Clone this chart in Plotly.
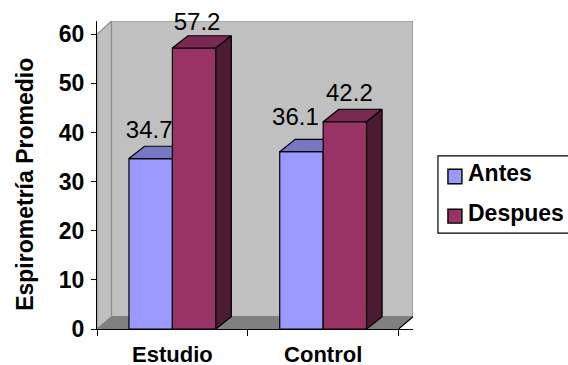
import plotly.graph_objects as go

categories = ["Estudio", "Control"]
antes = [34.7, 36.1]
despues = [57.2, 42.2]
y_ticks = [0, 10, 20, 30, 40, 50, 60]

BLUE, BLUE_TOP = "#9999FF", "#7777C4"
WINE, WINE_TOP, WINE_SIDE = "#993366", "#7A2952", "#4D1A33"
WALL, FLOOR, EDGE = "#C0C0C0", "#808080", "#8C8C8C"
FONT = "Liberation Sans"

W, H = 568, 365
L, R, T, B = 96.5, 413, 20.5, 329
X_MAX = 2.096
Y_MAX = 62.7
BAR_W = 0.288
DX, DY = 0.103, 2.5          # oblique depth of the bars
WALL_DX, WALL_DY = 0.096, 2.5  # oblique depth of the chart box

centers = [i + 0.5 for i in range(len(categories))]
fig = go.Figure()


def px_x(p):
    return (p - L) / (R - L)


def px_y(p):
    return (B - p) / (B - T)


def polygon(xs, ys, fill):
    fig.add_trace(go.Scatter(
        x=xs + xs[:1], y=ys + ys[:1], mode="lines", fill="toself", fillcolor=fill,
        line=dict(color="black", width=1.2), hoverinfo="skip", showlegend=False,
    ))


fig.add_trace(go.Bar(name="Antes", x=centers, y=antes, width=BAR_W, offset=-BAR_W,
                     marker=dict(color=BLUE, line=dict(color="black", width=1.2))))
fig.add_trace(go.Bar(name="Despues", x=centers, y=despues, width=BAR_W, offset=0,
                     marker=dict(color=WINE, line=dict(color="black", width=1.2))))

# Top faces of the front series stop where the taller neighbour begins
for c, v in zip(centers, antes):
    polygon([c - BAR_W, c, c, c - BAR_W + DX], [v, v, v + DY, v + DY], BLUE_TOP)

for c, v in zip(centers, despues):
    polygon([c, c + BAR_W, c + BAR_W + DX, c + DX], [v, v, v + DY, v + DY], WINE_TOP)
    polygon([c + BAR_W, c + BAR_W + DX, c + BAR_W + DX, c + BAR_W],
            [0, DY, v + DY, v], WINE_SIDE)

# Value labels, nudged off the bars the way the chart places them
label_x = [c - BAR_W / 2 + d for c, d in zip(centers, [-0.01, -0.04])] + \
          [c + BAR_W / 2 + d for c, d in zip(centers, [0.02, 0.03])]
label_lift = [5.5, 6.7, 4.9, 5.5]
label_values = antes + despues
fig.add_trace(go.Scatter(
    x=label_x, y=[v + d for v, d in zip(label_values, label_lift)],
    mode="text", text=[f"{v:.1f}" for v in label_values], textposition="middle center",
    textfont=dict(family=FONT, size=24, color="black"),
    cliponaxis=False, hoverinfo="skip", showlegend=False,
))

shapes = [
    # back wall, side wall and floor of the chart box
    dict(type="rect", xref="x", yref="y", x0=WALL_DX, x1=X_MAX, y0=WALL_DY, y1=Y_MAX,
         fillcolor=WALL, line=dict(color=EDGE, width=1.2), layer="below"),
    dict(type="path", xref="x", yref="y",
         path=f"M0,0 L{WALL_DX},{WALL_DY} L{WALL_DX},{Y_MAX} L0,60 Z",
         fillcolor=WALL, line=dict(color=EDGE, width=1.2), layer="below"),
    dict(type="path", xref="x", yref="y",
         path=f"M0,0 L2,0 L{X_MAX},{WALL_DY} L{WALL_DX},{WALL_DY} Z",
         fillcolor=FLOOR, line=dict(color=FLOOR, width=1), layer="below"),
    dict(type="line", xref="x", yref="y", x0=2, x1=X_MAX, y0=0, y1=WALL_DY,
         line=dict(color="black", width=1.2), layer="below"),
    # key box and swatches
    dict(type="rect", xref="paper", yref="paper",
         x0=px_x(438), x1=px_x(569), y0=px_y(233), y1=px_y(155.5),
         fillcolor="white", line=dict(color="black", width=1.2)),
    dict(type="rect", xref="paper", yref="paper",
         x0=px_x(448), x1=px_x(462), y0=px_y(183.5), y1=px_y(169),
         fillcolor=BLUE, line=dict(color="black", width=1.4)),
    dict(type="rect", xref="paper", yref="paper",
         x0=px_x(448), x1=px_x(462), y0=px_y(223), y1=px_y(209),
         fillcolor=WINE, line=dict(color="black", width=1.4)),
]

annotations = [
    dict(xref="paper", yref="paper", x=px_x(467), y=px_y(y), text=t, showarrow=False,
         xanchor="left", yanchor="middle", xshift=-1,
         font=dict(family=FONT, size=23, color="black"), align="left")
    for t, y in zip(["<b>Antes</b>", "<b>Despues</b>"], [173, 213])
]
annotations.append(dict(
    xref="paper", yref="paper", x=px_x(25), y=px_y(184), text="<b>Espirometría Promedio</b>",
    textangle=-90, showarrow=False, xanchor="center", yanchor="middle",
    font=dict(family=FONT, size=23, color="black"),
))

fig.update_layout(
    width=W, height=H, margin=dict(l=L, r=W - R, t=T, b=H - B, pad=0, autoexpand=False),
    paper_bgcolor="white", plot_bgcolor="rgba(0,0,0,0)",
    barmode="overlay", showlegend=False, shapes=shapes, annotations=annotations,
    xaxis=dict(
        range=[0, X_MAX], tickmode="array", tickvals=centers, automargin=False,
        ticktext=[f"<b>{c}</b>" for c in categories], ticks="", ticklen=0,
        ticklabelstandoff=5, showgrid=False, zeroline=False, showline=True,
        linecolor="black", linewidth=1.2, anchor="y",
        tickfont=dict(family=FONT, size=22, color="black"),
        minor=dict(tickmode="array", tickvals=[0, 1, 2], ticks="outside", ticklen=6,
                   tickcolor="black", tickwidth=1.2, showgrid=False),
    ),
    yaxis=dict(
        range=[0, Y_MAX], tickmode="array", tickvals=y_ticks, automargin=False,
        ticktext=[f"<b>{t}</b>" for t in y_ticks], ticks="outside", ticklen=5,
        tickcolor="black", tickwidth=1.2, showgrid=False, zeroline=False, showline=True,
        linecolor="black", linewidth=1.2, ticklabelstandoff=2,
        tickfont=dict(family=FONT, size=23, color="black"),
    ),
)

fig.write_html("out.html")
